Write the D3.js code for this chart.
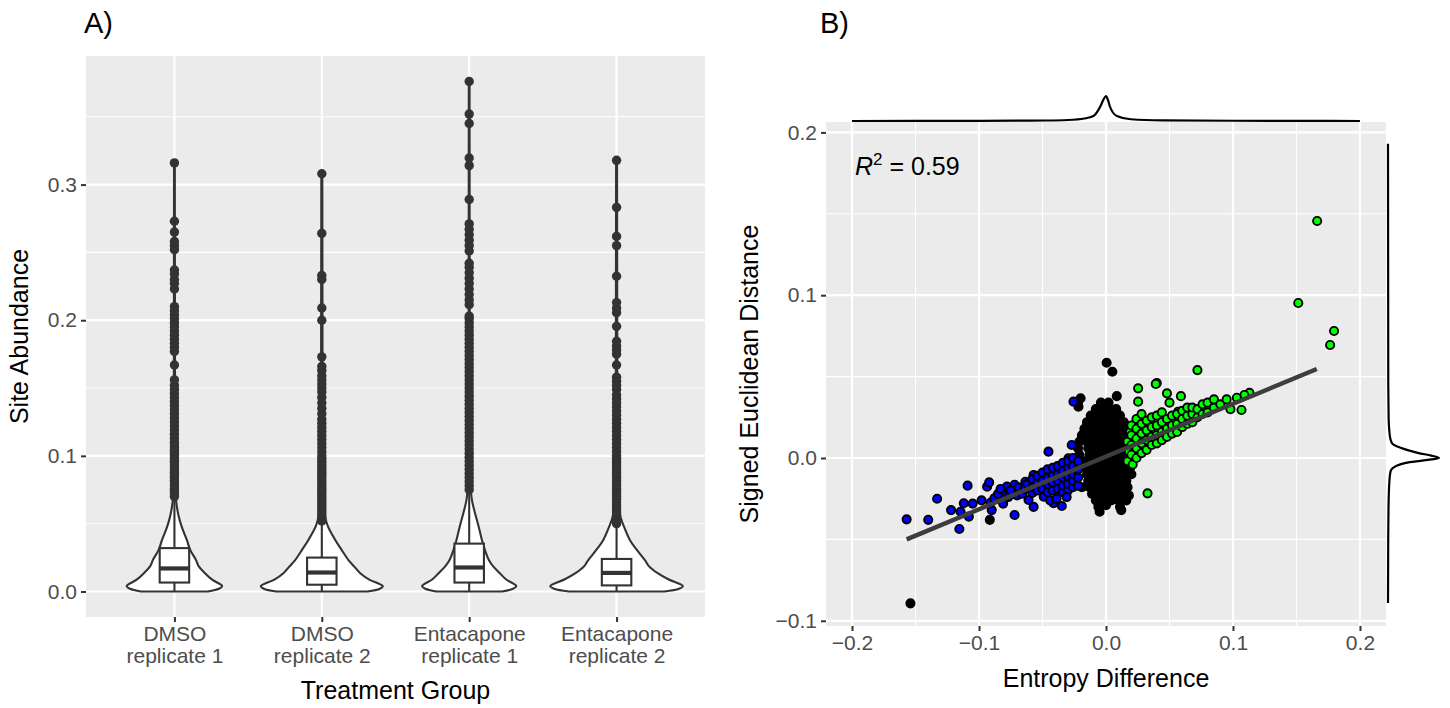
<!DOCTYPE html>
<html><head><meta charset="utf-8">
<script src="https://cdn.jsdelivr.net/npm/d3@7"></script>
<style>body{margin:0;background:#fff;} text{font-family:"Liberation Sans",Arial,Helvetica,sans-serif;}</style>
</head><body><svg id="chart" width="1450" height="708"></svg>
<script>
// ---------------- Panel A data ----------------
const categories = ["DMSO\nreplicate 1", "DMSO\nreplicate 2", "Entacapone\nreplicate 1", "Entacapone\nreplicate 2"];
const yTicksA = [0.0, 0.1, 0.2, 0.3];
const whiskerLow = [0.0, 0.0, 0.0, 0.0];
const q1s = [0.0066, 0.0050, 0.0066, 0.0045];
const medians = [0.0170, 0.0140, 0.0177, 0.0137];
const q3s = [0.0320, 0.0250, 0.0353, 0.0240];
const whiskerHigh = [0.069, 0.051, 0.074, 0.0495];
// violin relative max width (area scaling)
const violinMaxWidth = [0.72, 0.92, 0.71, 1.0];
// violin profiles: [value, relative half-width]
const violinDMSO1 = [[0.0,0.70],[0.002,0.93],[0.004,1.0],[0.0087,0.79],[0.0135,0.64],[0.0185,0.51],[0.0233,0.45],[0.0307,0.33],[0.038,0.26],[0.048,0.15],[0.057,0.08],[0.067,0.035],[0.08,0.02],[0.12,0.013],[0.2,0.011],[0.316,0.008]];
const violinDMSO2 = [[0.0,0.75],[0.002,0.95],[0.004,1.0],[0.009,0.77],[0.0135,0.63],[0.0185,0.53],[0.023,0.44],[0.031,0.32],[0.038,0.22],[0.048,0.10],[0.055,0.055],[0.065,0.03],[0.09,0.016],[0.2,0.011],[0.308,0.008]];
const violinEnta1 = [[0.0,0.70],[0.002,0.93],[0.004,1.0],[0.009,0.78],[0.0135,0.65],[0.0185,0.51],[0.023,0.42],[0.031,0.33],[0.038,0.27],[0.048,0.20],[0.057,0.13],[0.067,0.06],[0.075,0.035],[0.1,0.018],[0.2,0.012],[0.376,0.008]];
const violinEnta2 = [[0.0,0.72],[0.002,0.94],[0.004,1.0],[0.009,0.78],[0.0135,0.62],[0.0185,0.49],[0.023,0.43],[0.031,0.30],[0.038,0.20],[0.048,0.11],[0.055,0.06],[0.065,0.03],[0.09,0.015],[0.2,0.01],[0.317,0.007]];
const violinProfiles = [violinDMSO1, violinDMSO2, violinEnta1, violinEnta2];
const outliersDMSO1 = [0.070,0.072,0.074,0.076,0.078,0.080,0.082,0.084,0.086,0.088,0.090,0.092,0.094,0.096,0.098,0.100,0.102,0.104,0.106,0.108,0.110,0.113,0.116,0.119,0.122,0.125,0.128,0.131,0.134,0.137,0.140,0.143,0.146,0.149,0.152,0.156,0.167,0.177,0.180,0.183,0.186,0.189,0.192,0.195,0.198,0.201,0.204,0.207,0.210,0.223,0.227,0.230,0.234,0.237,0.252,0.255,0.258,0.265,0.273,0.316];
const outliersDMSO2 = [0.052,0.054,0.056,0.058,0.060,0.062,0.064,0.066,0.068,0.070,0.072,0.074,0.076,0.078,0.080,0.082,0.084,0.086,0.088,0.090,0.092,0.094,0.096,0.098,0.100,0.103,0.106,0.109,0.112,0.115,0.118,0.121,0.124,0.127,0.131,0.135,0.139,0.143,0.147,0.150,0.153,0.156,0.159,0.163,0.166,0.173,0.200,0.209,0.230,0.233,0.264,0.308];
const outliersEnta1 = [0.075,0.078,0.081,0.084,0.087,0.090,0.093,0.096,0.099,0.102,0.105,0.108,0.111,0.114,0.117,0.120,0.123,0.126,0.129,0.132,0.135,0.138,0.141,0.144,0.147,0.150,0.153,0.156,0.159,0.162,0.165,0.168,0.171,0.174,0.177,0.180,0.183,0.186,0.189,0.192,0.195,0.198,0.201,0.203,0.2115,0.215,0.219,0.223,0.227,0.231,0.235,0.239,0.242,0.251,0.255,0.259,0.263,0.267,0.271,0.289,0.314,0.3196,0.345,0.352,0.376];
const outliersEnta2 = [0.050,0.052,0.054,0.056,0.058,0.060,0.062,0.064,0.066,0.068,0.070,0.072,0.074,0.076,0.078,0.080,0.082,0.084,0.086,0.088,0.090,0.092,0.094,0.096,0.098,0.100,0.103,0.106,0.109,0.112,0.115,0.118,0.121,0.124,0.127,0.130,0.133,0.136,0.139,0.142,0.145,0.149,0.152,0.155,0.158,0.167,0.175,0.178,0.181,0.1845,0.1955,0.2056,0.209,0.213,0.2324,0.255,0.2618,0.2832,0.3179];
const outliers = [outliersDMSO1, outliersDMSO2, outliersEnta1, outliersEnta2];

// ---------------- Panel B data ----------------
const xTicksB = [-0.2, -0.1, 0.0, 0.1, 0.2];
const xTickLabelsB = ["\u22120.2", "\u22120.1", "0.0", "0.1", "0.2"];
const yTicksB = [-0.1, 0.0, 0.1, 0.2];
const yTickLabelsB = ["\u22120.1", "0.0", "0.1", "0.2"];
const rSquared = "0.59";
const fitSlope = 0.324, fitIntercept = 0.0009, fitRange = [-0.157, 0.166];
const nsPoints = [
[0.0005,0.0585],[0.005,0.053],[0.0085,0.038],[-0.020,0.0367],[-0.0217,0.0315],[-0.022,0.034],
[-0.0915,-0.038],[-0.154,-0.0893],
[-0.004,0.034],[0.002,0.034],
[-0.008,0.030],[-0.003,0.030],[0.003,0.030],[0.008,0.030],
[-0.012,0.026],[-0.006,0.026],[0.000,0.026],[0.006,0.026],[0.011,0.026],
[-0.015,0.022],[-0.009,0.022],[-0.003,0.022],[0.003,0.022],[0.009,0.022],[0.014,0.022],
[-0.017,0.018],[-0.011,0.018],[-0.005,0.018],[0.001,0.018],[0.007,0.018],[0.012,0.018],[0.017,0.018],
[-0.019,0.014],[-0.013,0.014],[-0.007,0.014],[-0.001,0.014],[0.005,0.014],[0.011,0.014],[0.016,0.014],
[-0.021,0.010],[-0.015,0.010],[-0.009,0.010],[-0.003,0.010],[0.003,0.010],[0.009,0.010],[0.014,0.010],[0.019,0.010],
[-0.022,0.006],[-0.014,0.006],[-0.008,0.006],[-0.002,0.006],[0.004,0.006],[0.010,0.006],[0.016,0.006],
[-0.021,0.002],[-0.013,0.002],[-0.007,0.002],[-0.001,0.002],[0.005,0.002],[0.011,0.002],[0.017,0.002],
[-0.018,-0.002],[-0.012,-0.002],[-0.006,-0.002],[0.000,-0.002],[0.006,-0.002],[0.012,-0.002],[0.018,-0.002],
[-0.016,-0.006],[-0.010,-0.006],[-0.004,-0.006],[0.002,-0.006],[0.008,-0.006],[0.014,-0.006],[0.019,-0.006],
[-0.015,-0.010],[-0.009,-0.010],[-0.003,-0.010],[0.003,-0.010],[0.009,-0.010],[0.015,-0.010],[0.020,-0.010],
[-0.014,-0.014],[-0.008,-0.014],[-0.002,-0.014],[0.004,-0.014],[0.010,-0.014],[0.016,-0.014],
[-0.019,-0.018],[-0.013,-0.018],[-0.007,-0.018],[-0.001,-0.018],[0.005,-0.018],[0.011,-0.018],[0.017,-0.018],
[-0.011,-0.022],[-0.005,-0.022],[0.001,-0.022],[0.007,-0.022],[0.013,-0.022],[0.018,-0.023],
[-0.008,-0.026],[-0.002,-0.026],[0.004,-0.026],[0.010,-0.026],[0.016,-0.026],
[-0.006,-0.030],[0.000,-0.029],[0.011,-0.030],
[-0.005,-0.033],[0.012,-0.032]
];
const downPoints = [
[-0.157,-0.0377],[-0.140,-0.038],[-0.133,-0.025],[-0.122,-0.032],[-0.1155,-0.0436],[-0.1145,-0.033],[-0.112,-0.0278],
[-0.108,-0.036],[-0.105,-0.028],[-0.109,-0.017],[-0.098,-0.026],[-0.0936,-0.0176],[-0.092,-0.015],[-0.090,-0.032],
[-0.091,-0.0275],[-0.088,-0.0248],[-0.081,-0.028],[-0.081,-0.0228],[-0.078,-0.0176],[-0.072,-0.035],[-0.0727,-0.0217],
[-0.072,-0.0164],[-0.0675,-0.0197],[-0.0635,-0.0146],[-0.061,-0.0258],[-0.057,-0.030],[-0.058,-0.0215],[-0.057,-0.0104],
[-0.053,-0.0156],[-0.049,-0.0238],[-0.0465,-0.0176],[-0.0453,0.0039],[-0.0465,-0.0111],[-0.0413,-0.0278],[-0.0348,-0.0295],
[-0.0387,-0.0053],[-0.036,-0.0135],[-0.031,-0.0094],[-0.0296,-0.0002],[-0.027,0.008],[-0.0256,-0.0135],
[-0.0252,-0.0053],[-0.024,-0.0094],
[-0.085,-0.022],[-0.083,-0.019],[-0.077,-0.024],[-0.075,-0.020],[-0.070,-0.023],[-0.069,-0.018],[-0.066,-0.022],[-0.064,-0.019],[-0.062,-0.016],
[-0.058,-0.018],[-0.058,-0.013],
[-0.054,-0.020],[-0.054,-0.015],[-0.054,-0.011],
[-0.050,-0.019],[-0.050,-0.014],[-0.050,-0.009],
[-0.046,-0.021],[-0.046,-0.016],[-0.046,-0.012],[-0.046,-0.007],
[-0.042,-0.020],[-0.042,-0.015],[-0.042,-0.011],[-0.042,-0.006],
[-0.038,-0.019],[-0.038,-0.014],[-0.038,-0.010],[-0.038,-0.005],
[-0.034,-0.021],[-0.034,-0.017],[-0.034,-0.012],[-0.034,-0.008],[-0.034,-0.003],
[-0.030,-0.020],[-0.030,-0.016],[-0.030,-0.011],[-0.030,-0.006],[-0.030,-0.002],
[-0.026,-0.018],[-0.026,-0.014],[-0.026,-0.010],[-0.026,-0.005],[-0.026,0.000],
[-0.022,-0.017],[-0.022,-0.012],[-0.022,-0.007],[-0.022,-0.002],
[-0.044,-0.026],[-0.039,-0.025],[-0.031,-0.024],
[-0.0256,0.0346]
];
const upPoints = [
[0.1663,0.1456],[0.1514,0.0952],[0.1796,0.078],[0.1765,0.0694],
[0.072,0.054],[0.040,0.046],[0.0253,0.0428],[0.0392,0.0455],[0.048,0.0397],[0.0253,0.0346],[0.050,0.034],[0.0567,0.0284],
[0.059,0.038],[0.113,0.040],[0.109,0.0387],[0.1067,0.0295],[0.0327,-0.0217],
[0.017,-0.002],[0.018,0.004],[0.017,0.010],[0.019,0.016],[0.021,-0.004],
[0.020,0.002],[0.020,0.008],[0.020,0.014],[0.020,0.020],
[0.024,0.000],[0.024,0.006],[0.024,0.012],[0.024,0.018],[0.024,0.024],
[0.028,0.003],[0.028,0.009],[0.028,0.015],[0.028,0.021],[0.028,0.027],
[0.032,0.005],[0.032,0.011],[0.032,0.017],[0.032,0.023],
[0.036,0.008],[0.036,0.013],[0.036,0.019],[0.036,0.025],
[0.040,0.009],[0.040,0.014],[0.040,0.020],[0.040,0.026],
[0.044,0.011],[0.044,0.016],[0.044,0.022],[0.044,0.028],
[0.048,0.013],[0.048,0.018],[0.048,0.024],
[0.052,0.015],[0.052,0.020],[0.052,0.026],
[0.056,0.016],[0.056,0.021],[0.056,0.027],
[0.060,0.019],[0.060,0.024],[0.060,0.029],
[0.064,0.021],[0.064,0.026],[0.064,0.031],
[0.068,0.022],[0.068,0.027],[0.068,0.031],
[0.072,0.025],[0.072,0.030],
[0.076,0.027],[0.076,0.033],
[0.080,0.028],[0.080,0.034],
[0.085,0.031],[0.085,0.036],
[0.090,0.033],[0.095,0.036],[0.098,0.030],[0.103,0.037]
];
// marginal densities (relative)
const densityX = [[-0.2,0],[-0.15,0.003],[-0.1,0.008],[-0.047,0.02],[-0.03,0.04],[-0.017,0.1],[-0.0099,0.2],[-0.0044,0.59],[-0.0018,0.88],[0,1],[0.0015,0.85],[0.003,0.59],[0.0085,0.2],[0.0195,0.07],[0.045,0.025],[0.1,0.01],[0.15,0.004],[0.2,0]];
const densityY = [[-0.089,0],[-0.05,0.004],[-0.03,0.01],[-0.0155,0.025],[-0.01,0.04],[-0.0074,0.06],[-0.005,0.15],[-0.003,0.35],[-0.0015,0.7],[0,1],[0.0015,0.85],[0.003,0.6],[0.005,0.37],[0.007,0.18],[0.009,0.08],[0.012,0.045],[0.017,0.025],[0.025,0.012],[0.05,0.005],[0.193,0]];

// ---------------- drawing ----------------
const svg = d3.select("#chart");
const tickCol = "#4D4D4D", darkCol = "#333333", bg = "#EBEBEB";
const tickFont = 21, titleFont = 25, tagFont = 29;

function styleAxis(g){
  g.select(".domain").remove();
  g.selectAll(".tick line").attr("stroke", darkCol).attr("stroke-width", 2);
  g.selectAll(".tick text").attr("fill", tickCol).attr("font-size", tickFont).attr("font-family", "Liberation Sans, Arial, sans-serif");
}

// Panel A
const A = {x0:86, x1:705, y0:56, y1:617};
const xA = d3.scalePoint().domain(categories).range([A.x0, A.x1]).padding(0.6);
const yA = d3.scaleLinear().domain([-0.0188, 0.3948]).range([A.y1, A.y0]);
const gA = svg.append("g");
gA.append("rect").attr("x", A.x0).attr("y", A.y0).attr("width", A.x1-A.x0).attr("height", A.y1-A.y0).attr("fill", bg);
const minorA = [0.05, 0.15, 0.25, 0.35];
gA.selectAll(".minA").data(minorA).join("line").attr("x1", A.x0).attr("x2", A.x1)
  .attr("y1", d=>yA(d)).attr("y2", d=>yA(d)).attr("stroke", "#fff").attr("stroke-width", 1.1);
gA.selectAll(".majA").data(yTicksA).join("line").attr("x1", A.x0).attr("x2", A.x1)
  .attr("y1", d=>yA(d)).attr("y2", d=>yA(d)).attr("stroke", "#fff").attr("stroke-width", 2.2);
gA.selectAll(".majAx").data(categories).join("line").attr("y1", A.y0).attr("y2", A.y1)
  .attr("x1", d=>xA(d)).attr("x2", d=>xA(d)).attr("stroke", "#fff").attr("stroke-width", 2.2);

const step = xA.step();
const maxHalf = 0.45 * step;
categories.forEach((c, i) => {
  const cx = xA(c);
  const s = violinMaxWidth[i] * maxHalf;
  const area = d3.area().curve(d3.curveCatmullRom.alpha(0.5))
    .y(d => yA(d[0])).x0(d => cx - d[1]*s).x1(d => cx + d[1]*s);
  gA.append("path").attr("d", area(violinProfiles[i])).attr("fill", "#fff")
    .attr("stroke", darkCol).attr("stroke-width", 2.1);
  // boxplot
  const bw = 0.2 * step;
  gA.append("line").attr("x1", cx).attr("x2", cx).attr("y1", yA(q3s[i])).attr("y2", yA(whiskerHigh[i])).attr("stroke", darkCol).attr("stroke-width", 2.1);
  gA.append("line").attr("x1", cx).attr("x2", cx).attr("y1", yA(q1s[i])).attr("y2", yA(whiskerLow[i])).attr("stroke", darkCol).attr("stroke-width", 2.1);
  gA.append("rect").attr("x", cx - bw/2).attr("width", bw).attr("y", yA(q3s[i])).attr("height", yA(q1s[i]) - yA(q3s[i]))
    .attr("fill", "#fff").attr("stroke", darkCol).attr("stroke-width", 2.1);
  gA.append("line").attr("x1", cx - bw/2).attr("x2", cx + bw/2).attr("y1", yA(medians[i])).attr("y2", yA(medians[i]))
    .attr("stroke", darkCol).attr("stroke-width", 4.2);
  gA.selectAll(null).data(outliers[i]).join("circle").attr("cx", cx).attr("cy", d => yA(d)).attr("r", 4.7).attr("fill", darkCol);
});

const axAy = gA.append("g").attr("transform", `translate(${A.x0},0)`)
  .call(d3.axisLeft(yA).tickValues(yTicksA).tickFormat(d3.format(".1f")).tickSize(5).tickPadding(4));
styleAxis(axAy);
const axAx = gA.append("g").attr("transform", `translate(0,${A.y1})`)
  .call(d3.axisBottom(xA).tickSize(5).tickPadding(4));
styleAxis(axAx);
axAx.selectAll(".tick text").each(function(d){
  const t = d3.select(this); const lines = d.split("\n"); t.text(null);
  lines.forEach((l, k) => t.append("tspan").attr("x", 0).attr("dy", k === 0 ? "0.71em" : "1.05em").text(l));
});
gA.append("text").attr("x", (A.x0+A.x1)/2).attr("y", 699).attr("text-anchor", "middle").attr("font-size", titleFont).attr("fill", "#000").text("Treatment Group");
gA.append("text").attr("transform", `translate(28,${(A.y0+A.y1)/2}) rotate(-90)`).attr("text-anchor", "middle").attr("font-size", titleFont).attr("fill", "#000").text("Site Abundance");
gA.append("text").attr("x", 84).attr("y", 33).attr("font-size", tagFont).attr("fill", "#000").text("A)");

// Panel B
const B = {x0:826, x1:1386, y0:122, y1:626};
const xB = d3.scaleLinear().domain([-0.2205, 0.2205]).range([B.x0, B.x1]);
const yB = d3.scaleLinear().domain([-0.1032, 0.2064]).range([B.y1, B.y0]);
const gB = svg.append("g");
gB.append("rect").attr("x", B.x0).attr("y", B.y0).attr("width", B.x1-B.x0).attr("height", B.y1-B.y0).attr("fill", bg);
const minorBx = [-0.15, -0.05, 0.05, 0.15], minorBy = [-0.05, 0.05, 0.15];
gB.selectAll(".mbx").data(minorBx).join("line").attr("y1", B.y0).attr("y2", B.y1).attr("x1", d=>xB(d)).attr("x2", d=>xB(d)).attr("stroke", "#fff").attr("stroke-width", 1.1);
gB.selectAll(".mby").data(minorBy).join("line").attr("x1", B.x0).attr("x2", B.x1).attr("y1", d=>yB(d)).attr("y2", d=>yB(d)).attr("stroke", "#fff").attr("stroke-width", 1.1);
gB.selectAll(".Mbx").data(xTicksB).join("line").attr("y1", B.y0).attr("y2", B.y1).attr("x1", d=>xB(d)).attr("x2", d=>xB(d)).attr("stroke", "#fff").attr("stroke-width", 2.2);
gB.selectAll(".Mby").data(yTicksB).join("line").attr("x1", B.x0).attr("x2", B.x1).attr("y1", d=>yB(d)).attr("y2", d=>yB(d)).attr("stroke", "#fff").attr("stroke-width", 2.2);

function drawPts(data, fill){
  gB.selectAll(null).data(data).join("circle").attr("cx", d=>xB(d[0])).attr("cy", d=>yB(d[1]))
    .attr("r", 4.1).attr("fill", fill).attr("stroke", "#000").attr("stroke-width", 1.9);
}
drawPts(nsPoints, "#000");
drawPts(downPoints, "#0000FF");
drawPts(upPoints, "#00FF00");
gB.append("line").attr("x1", xB(fitRange[0])).attr("y1", yB(fitIntercept + fitSlope*fitRange[0]))
  .attr("x2", xB(fitRange[1])).attr("y2", yB(fitIntercept + fitSlope*fitRange[1]))
  .attr("stroke", "#3D3D3D").attr("stroke-width", 4.4);

const r2 = gB.append("text").attr("x", 855).attr("y", 175).attr("font-size", 25).attr("fill", "#000");
r2.append("tspan").attr("font-style", "italic").text("R");
r2.append("tspan").attr("font-size", 17).attr("dy", -10).text("2");
r2.append("tspan").attr("dy", 10).text(" = " + rSquared);

const axBy = gB.append("g").attr("transform", `translate(${B.x0},0)`)
  .call(d3.axisLeft(yB).tickValues(yTicksB).tickFormat((d,i)=>yTickLabelsB[i]).tickSize(5).tickPadding(4));
styleAxis(axBy);
const axBx = gB.append("g").attr("transform", `translate(0,${B.y1})`)
  .call(d3.axisBottom(xB).tickValues(xTicksB).tickFormat((d,i)=>xTickLabelsB[i]).tickSize(5).tickPadding(4));
styleAxis(axBx);
gB.append("text").attr("x", (B.x0+B.x1)/2).attr("y", 687).attr("text-anchor", "middle").attr("font-size", titleFont).attr("fill", "#000").text("Entropy Difference");
gB.append("text").attr("transform", `translate(758,${(B.y0+B.y1)/2}) rotate(-90)`).attr("text-anchor", "middle").attr("font-size", titleFont).attr("fill", "#000").text("Signed Euclidean Distance");
gB.append("text").attr("x", 820).attr("y", 33).attr("font-size", tagFont).attr("fill", "#000").text("B)");

// marginal densities
const yTop = d3.scaleLinear().domain([0, 1]).range([121, 96]);
const xRight = d3.scaleLinear().domain([0, 1]).range([1388, 1439]);
gB.append("path").attr("d", d3.line().curve(d3.curveMonotoneX).x(d=>xB(d[0])).y(d=>yTop(d[1]))(densityX))
  .attr("fill", "none").attr("stroke", "#000").attr("stroke-width", 2.2);
gB.append("path").attr("d", d3.line().curve(d3.curveMonotoneY).y(d=>yB(d[0])).x(d=>xRight(d[1]))(densityY.slice().reverse()))
  .attr("fill", "none").attr("stroke", "#000").attr("stroke-width", 2.2);
</script></body></html>
